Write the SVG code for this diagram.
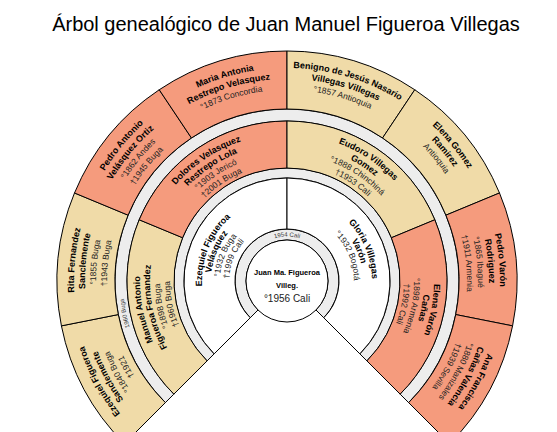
<svg xmlns="http://www.w3.org/2000/svg" width="557" height="432" viewBox="0 0 557 432">
<style>
.o{fill:#F59B7D;stroke:#000;stroke-width:1}
.t{fill:#F0DBA8;stroke:#000;stroke-width:1}
.w{fill:#fff;stroke:#000;stroke-width:1}
.g{fill:#EDEDED;stroke:#000;stroke-width:1}
text{font-family:"Liberation Sans",Arial,sans-serif}
.n{font-size:9px;font-weight:bold;fill:#000}
.d{font-size:8.5px;fill:#222}
.m{font-size:6px;fill:#333}
.title{font-size:20px;fill:#000}
</style>
<defs>
<path id="a213" d="M 180.5 96.54 A 213 213 0 0 1 393.5 96.54"/>
<path id="a202" d="M 186 106.06 A 202 202 0 0 1 388 106.06"/>
<path id="a191" d="M 191.5 115.59 A 191 191 0 0 1 382.5 115.59"/>
<path id="a180" d="M 197 125.12 A 180 180 0 0 1 377 125.12"/>
<path id="a147" d="M 192.51 168.39 A 147 147 0 0 1 381.49 168.39"/>
<path id="a137" d="M 198.94 176.05 A 137 137 0 0 1 375.06 176.05"/>
<path id="a127" d="M 205.37 183.71 A 127 127 0 0 1 368.63 183.71"/>
<path id="a117" d="M 211.79 191.37 A 117 117 0 0 1 362.21 191.37"/>
<path id="a85" d="M 221.89 226.36 A 85 85 0 0 1 352.11 226.36"/>
<path id="a76" d="M 228.78 232.15 A 76 76 0 0 1 345.22 232.15"/>
<path id="a67" d="M 235.68 237.93 A 67 67 0 0 1 338.32 237.93"/>
<path id="a58" d="M 242.57 243.72 A 58 58 0 0 1 331.43 243.72"/>
<path id="a44" d="M 252.91 252.4 A 44.5 44.5 0 0 1 321.09 252.4"/>
<path id="a164" d="M 230.91 126.89 A 164 164 0 0 1 343.09 126.89"/>
</defs>

<text class="title" x="286" y="31" text-anchor="middle">Árbol genealógico de Juan Manuel Figueroa Villegas</text>

<g id="bands">
<path class="g" d="M 165.38 402.62 A 172 172 0 1 1 408.62 402.62 L 400.14 394.14 A 160 160 0 1 0 173.86 394.14 Z"/>
<path class="g" d="M 207.1 360.9 A 113 113 0 1 1 366.9 360.9 L 359.83 353.83 A 103 103 0 1 0 214.17 353.83 Z"/>
<path class="g" d="M 250.23 317.77 A 52 52 0 1 1 323.77 317.77 L 315.99 309.99 A 41 41 0 1 0 258.01 309.99 Z"/>
</g>

<g id="g4-1">
<path class="t" d="M 124.37 443.63 A 230 230 0 0 1 61.42 325.87 L 118.3 314.56 A 172 172 0 0 0 165.38 402.62 Z"/>
<g transform="rotate(-118.125 287 281)">
<text class="n"><textPath href="#a213" startOffset="50%" text-anchor="middle">Ezequiel Figueroa</textPath></text>
<text class="n"><textPath href="#a202" startOffset="50%" text-anchor="middle">Sanclemente</textPath></text>
<text class="d"><textPath href="#a191" startOffset="50%" text-anchor="middle">°1840 Buga</textPath></text>
<text class="d"><textPath href="#a180" startOffset="50%" text-anchor="middle">†1921</textPath></text>
</g>
</g>
<g id="g4-2">
<path class="t" d="M 61.42 325.87 A 230 230 0 0 1 74.51 192.98 L 128.09 215.18 A 172 172 0 0 0 118.3 314.56 Z"/>
<g transform="rotate(-84.375 287 281)">
<text class="n"><textPath href="#a213" startOffset="50%" text-anchor="middle">Rita Fernandez</textPath></text>
<text class="n"><textPath href="#a202" startOffset="50%" text-anchor="middle">Sanclemente</textPath></text>
<text class="d"><textPath href="#a191" startOffset="50%" text-anchor="middle">°1855 Buga</textPath></text>
<text class="d"><textPath href="#a180" startOffset="50%" text-anchor="middle">†1943 Buga</textPath></text>
</g>
</g>
<g id="g4-3">
<path class="o" d="M 74.51 192.98 A 230 230 0 0 1 159.22 89.76 L 191.44 137.99 A 172 172 0 0 0 128.09 215.18 Z"/>
<g transform="rotate(-50.625 287 281)">
<text class="n"><textPath href="#a213" startOffset="50%" text-anchor="middle">Pedro Antonio</textPath></text>
<text class="n"><textPath href="#a202" startOffset="50%" text-anchor="middle">Velásquez Ortiz</textPath></text>
<text class="d"><textPath href="#a191" startOffset="50%" text-anchor="middle">°1862 Andes</textPath></text>
<text class="d"><textPath href="#a180" startOffset="50%" text-anchor="middle">†1945 Buga</textPath></text>
</g>
</g>
<g id="g4-4">
<path class="o" d="M 159.22 89.76 A 230 230 0 0 1 287 51 L 287 109 A 172 172 0 0 0 191.44 137.99 Z"/>
<g transform="rotate(-16.875 287 281)">
<text class="n"><textPath href="#a213" startOffset="50%" text-anchor="middle">Maria Antonia</textPath></text>
<text class="n"><textPath href="#a202" startOffset="50%" text-anchor="middle">Restrepo Velasquez</textPath></text>
<text class="d"><textPath href="#a191" startOffset="50%" text-anchor="middle">°1873 Concordia</textPath></text>
</g>
</g>
<g id="g4-5">
<path class="t" d="M 287 51 A 230 230 0 0 1 414.78 89.76 L 382.56 137.99 A 172 172 0 0 0 287 109 Z"/>
<g transform="rotate(16.875 287 281)">
<text class="n"><textPath href="#a213" startOffset="50%" text-anchor="middle">Benigno de Jesús Nasario</textPath></text>
<text class="n"><textPath href="#a202" startOffset="50%" text-anchor="middle">Villegas Villegas</textPath></text>
<text class="d"><textPath href="#a191" startOffset="50%" text-anchor="middle">°1857 Antioquia</textPath></text>
</g>
</g>
<g id="g4-6">
<path class="t" d="M 414.78 89.76 A 230 230 0 0 1 499.49 192.98 L 445.91 215.18 A 172 172 0 0 0 382.56 137.99 Z"/>
<g transform="rotate(50.625 287 281)">
<text class="n"><textPath href="#a213" startOffset="50%" text-anchor="middle">Elena Gomez</textPath></text>
<text class="n"><textPath href="#a202" startOffset="50%" text-anchor="middle">Ramirez</textPath></text>
<text class="d"><textPath href="#a191" startOffset="50%" text-anchor="middle">Antioquia</textPath></text>
</g>
</g>
<g id="g4-7">
<path class="o" d="M 499.49 192.98 A 230 230 0 0 1 512.58 325.87 L 455.7 314.56 A 172 172 0 0 0 445.91 215.18 Z"/>
<g transform="rotate(84.375 287 281)">
<text class="n"><textPath href="#a213" startOffset="50%" text-anchor="middle">Pedro Varón</textPath></text>
<text class="n"><textPath href="#a202" startOffset="50%" text-anchor="middle">Rodriguez</textPath></text>
<text class="d"><textPath href="#a191" startOffset="50%" text-anchor="middle">°1865 Ibagué</textPath></text>
<text class="d"><textPath href="#a180" startOffset="50%" text-anchor="middle">†1911 Armenia</textPath></text>
</g>
</g>
<g id="g4-8">
<path class="o" d="M 512.58 325.87 A 230 230 0 0 1 449.63 443.63 L 408.62 402.62 A 172 172 0 0 0 455.7 314.56 Z"/>
<g transform="rotate(118.125 287 281)">
<text class="n"><textPath href="#a213" startOffset="50%" text-anchor="middle">Ana Francisca</textPath></text>
<text class="n"><textPath href="#a202" startOffset="50%" text-anchor="middle">Cañas Valencia</textPath></text>
<text class="d"><textPath href="#a191" startOffset="50%" text-anchor="middle">°1880 Manizales</textPath></text>
<text class="d"><textPath href="#a180" startOffset="50%" text-anchor="middle">†1939 Sevilla</textPath></text>
</g>
</g>

<g id="g3-1">
<path class="t" d="M 173.86 394.14 A 160 160 0 0 1 139.18 219.77 L 182.6 237.76 A 113 113 0 0 0 207.1 360.9 Z"/>
<g transform="rotate(-101.25 287 281)">
<text class="n"><textPath href="#a147" startOffset="50%" text-anchor="middle">Manuel Antonio</textPath></text>
<text class="n"><textPath href="#a137" startOffset="50%" text-anchor="middle">Figueroa Fernandez</textPath></text>
<text class="d"><textPath href="#a127" startOffset="50%" text-anchor="middle">°1898 Buga</textPath></text>
<text class="d"><textPath href="#a117" startOffset="50%" text-anchor="middle">†1960 Buga</textPath></text>
</g>
</g>
<g id="g3-2">
<path class="o" d="M 139.18 219.77 A 160 160 0 0 1 287 121 L 287 168 A 113 113 0 0 0 182.6 237.76 Z"/>
<g transform="rotate(-33.75 287 281)">
<text class="n"><textPath href="#a147" startOffset="50%" text-anchor="middle">Dolores Velasquez</textPath></text>
<text class="n"><textPath href="#a137" startOffset="50%" text-anchor="middle">Restrepo Lola</textPath></text>
<text class="d"><textPath href="#a127" startOffset="50%" text-anchor="middle">°1903 Jericó</textPath></text>
<text class="d"><textPath href="#a117" startOffset="50%" text-anchor="middle">†2001 Buga</textPath></text>
</g>
</g>
<g id="g3-3">
<path class="t" d="M 287 121 A 160 160 0 0 1 434.82 219.77 L 391.4 237.76 A 113 113 0 0 0 287 168 Z"/>
<g transform="rotate(33.75 287 281)">
<text class="n"><textPath href="#a147" startOffset="50%" text-anchor="middle">Eudoro Villegas</textPath></text>
<text class="n"><textPath href="#a137" startOffset="50%" text-anchor="middle">Gomez</textPath></text>
<text class="d"><textPath href="#a127" startOffset="50%" text-anchor="middle">°1888 Chinchiná</textPath></text>
<text class="d"><textPath href="#a117" startOffset="50%" text-anchor="middle">†1953 Cali</textPath></text>
</g>
</g>
<g id="g3-4">
<path class="o" d="M 434.82 219.77 A 160 160 0 0 1 400.14 394.14 L 366.9 360.9 A 113 113 0 0 0 391.4 237.76 Z"/>
<g transform="rotate(101.25 287 281)">
<text class="n"><textPath href="#a147" startOffset="50%" text-anchor="middle">Elena Varón</textPath></text>
<text class="n"><textPath href="#a137" startOffset="50%" text-anchor="middle">Cañas</textPath></text>
<text class="d"><textPath href="#a127" startOffset="50%" text-anchor="middle">°1898 Armenia</textPath></text>
<text class="d"><textPath href="#a117" startOffset="50%" text-anchor="middle">†1992 Cali</textPath></text>
</g>
</g>

<g id="g2-1">
<path class="w" d="M 214.17 353.83 A 103 103 0 0 1 287 178 L 287 229 A 52 52 0 0 0 250.23 317.77 Z"/>
<g transform="rotate(-67.5 287 281)">
<text class="n"><textPath href="#a85" startOffset="50%" text-anchor="middle">Ezequiel Figueroa</textPath></text>
<text class="n"><textPath href="#a76" startOffset="50%" text-anchor="middle">Velásquez</textPath></text>
<text class="d"><textPath href="#a67" startOffset="50%" text-anchor="middle">°1932 Buga</textPath></text>
<text class="d"><textPath href="#a58" startOffset="50%" text-anchor="middle">†1999 Cali</textPath></text>
</g>
</g>
<g id="g2-2">
<path class="w" d="M 287 178 A 103 103 0 0 1 359.83 353.83 L 323.77 317.77 A 52 52 0 0 0 287 229 Z"/>
<g transform="rotate(67.5 287 281)">
<text class="n"><textPath href="#a85" startOffset="50%" text-anchor="middle">Gloria Villegas</textPath></text>
<text class="n"><textPath href="#a76" startOffset="50%" text-anchor="middle">Varón</textPath></text>
<text class="d"><textPath href="#a67" startOffset="50%" text-anchor="middle">°1932 Bogotá</textPath></text>
</g>
</g>

<g id="center">
<circle class="w" cx="287" cy="281" r="41"/>
<text class="n" x="287" y="275" text-anchor="middle" style="font-size:7.5px">Juan Ma. Figueroa</text>
<text class="n" x="287" y="288" text-anchor="middle" style="font-size:7.5px">Villeg.</text>
<text class="d" x="287" y="302" text-anchor="middle" style="font-size:10px">°1956 Cali</text>
</g>

<g id="marriages">
<text class="m"><textPath href="#a44" startOffset="50%" text-anchor="middle">1954 Cali</textPath></text>
<g transform="rotate(-101.25 287 281)">
<text class="m"><textPath href="#a164" startOffset="50%" text-anchor="middle">1960 Buga</textPath></text>
</g>
</g>
</svg>
